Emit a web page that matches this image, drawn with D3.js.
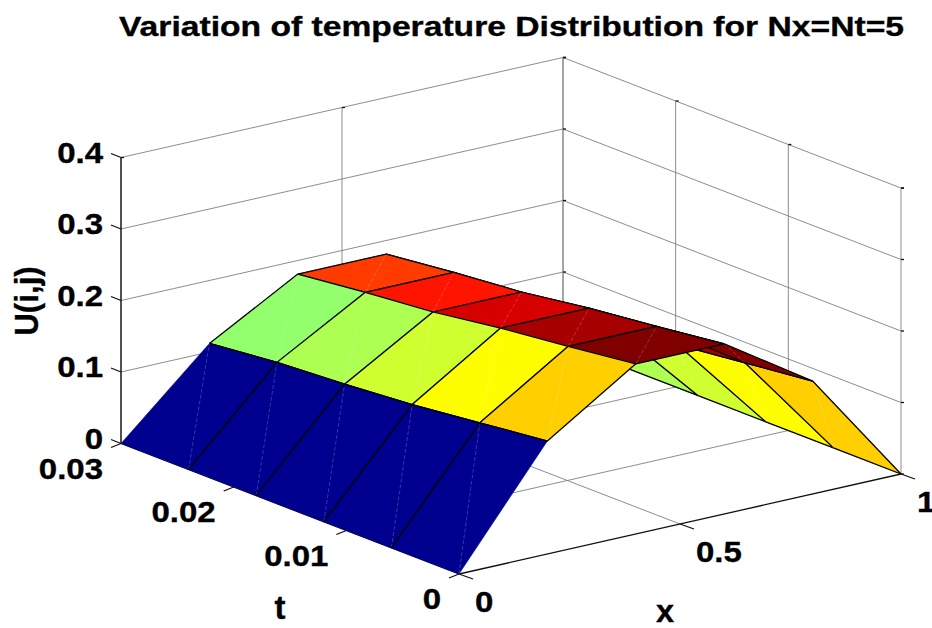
<!DOCTYPE html>
<meta charset="utf-8">
<style>
html, body { margin: 0; background: #fff; }
text { font-family: "Liberation Sans", Arial, sans-serif; font-weight: bold; fill: #000; stroke: #000; stroke-width: 0.35px; }
.grid line { stroke: #808080; stroke-width: 0.9px; }
.axis line { stroke: #111; stroke-width: 1.3px; }
</style>
<body>
<svg width="932" height="628"></svg>
</body>
<script src="https://d3js.org/d3.v7.min.js"></script>
<script>

// values
var xValues = [0, 0.2, 0.4, 0.6, 0.8, 1];
var tValues = [0, 0.006, 0.012, 0.018, 0.024, 0.03];
var uAtX0 = [0, 0, 0, 0, 0, 0];
var uAtX1 = [0.158, 0.147, 0.136, 0.128, 0.122, 0.112];
var uAtX2 = [0.238, 0.226, 0.215, 0.201, 0.192, 0.181];
var uAtX3 = [0.238, 0.226, 0.215, 0.201, 0.192, 0.181];
var uAtX4 = [0.158, 0.147, 0.136, 0.128, 0.122, 0.112];
var uAtX5 = [0, 0, 0, 0, 0, 0];
var uRows = [uAtX0, uAtX1, uAtX2, uAtX3, uAtX4, uAtX5];

var xTicks = [0, 0.5, 1];
var tTicks = [0, 0.01, 0.02, 0.03];
var uTicks = [0, 0.1, 0.2, 0.3, 0.4];
var xLabels = ["0", "0.5", "1"];
var tLabels = ["0", "0.01", "0.02", "0.03"];
var uLabels = ["0", "0.1", "0.2", "0.3", "0.4"];
var jetStops = [0, 0.125, 0.375, 0.625, 0.875, 1];
var jetColors = ["#00008f", "#0000ff", "#00ffff", "#ffff00", "#ff0000", "#800000"];
var colorTop = 0.235;

var svg = d3.select("svg");

// oblique projection, one scale per screen direction of each data axis
var xToX = d3.scaleLinear().domain([0, 1]).range([0, 442]);
var xToY = d3.scaleLinear().domain([0, 1]).range([0, -100]);
var tToX = d3.scaleLinear().domain([0, 0.03]).range([0, -338]);
var tToY = d3.scaleLinear().domain([0, 0.03]).range([0, -130.5]);
var uToY = d3.scaleLinear().domain([0, 0.4]).range([0, -286]);

function project(x, t, u) {
  return [459 + xToX(x) + tToX(t), 574 + xToY(x) + tToY(t) + uToY(u)];
}

var color = d3.scaleLinear().clamp(true)
  .domain(jetStops.map(function(d) { return d * colorTop; })).range(jetColors);

function seg(g, a, b) {
  g.append("line").attr("x1", a[0]).attr("y1", a[1]).attr("x2", b[0]).attr("y2", b[1]);
}
function offset(p, dx, dy) { return [p[0] + dx, p[1] + dy]; }

// walls and floor
var grid = svg.append("g").attr("class", "grid");
var tMax = 0.03;
uTicks.forEach(function(u) {
  seg(grid, project(0, tMax, u), project(1, tMax, u));
  seg(grid, project(1, tMax, u), project(1, 0, u));
});
xTicks.forEach(function(x) {
  seg(grid, project(x, tMax, 0), project(x, tMax, 0.4));
  if (x > 0 && x < 1) seg(grid, project(x, tMax, 0), project(x, 0, 0));
});
tTicks.forEach(function(t) {
  seg(grid, project(1, t, 0), project(1, t, 0.4));
  if (t > 0 && t < tMax) seg(grid, project(0, t, 0), project(1, t, 0));
});

// axes and tick marks
var axis = svg.append("g").attr("class", "axis");
seg(axis, project(0, tMax, 0), project(0, tMax, 0.4));
seg(axis, project(0, tMax, 0), project(0, 0, 0));
seg(axis, project(0, 0, 0), project(1, 0, 0));
uTicks.forEach(function(u) {
  seg(axis, project(0, tMax, u), offset(project(0, tMax, u), -10, -4));
  seg(axis, project(1, tMax, u), offset(project(1, tMax, u), 3, 0));
  seg(axis, project(1, 0, u), offset(project(1, 0, u), 3, 0));
});
tTicks.forEach(function(t) {
  var p = project(0, t, 0);
  seg(axis, p, offset(p, -10, 4));
  seg(axis, project(1, t, 0.4), offset(project(1, t, 0.4), 3, 0));
});
xTicks.forEach(function(x) {
  var p = project(x, 0, 0);
  seg(axis, p, offset(p, 14, 5));
  seg(axis, project(x, tMax, 0.4), offset(project(x, tMax, 0.4), 3, 0));
});

// surface, far cells first so the near ones cover them
var cells = [];
xValues.slice(0, -1).forEach(function(x, i) {
  tValues.slice(0, -1).forEach(function(t, j) {
    cells.push({i: i, j: j});
  });
});
cells.sort(function(a, b) { return (b.i + b.j) - (a.i + a.j); });

var surface = svg.append("g");
function corner(i, j) { return project(xValues[i], tValues[j], uRows[i][j]); }

cells.forEach(function(c) {
  var i = c.i, j = c.j;
  var a = corner(i, j), b = corner(i, j + 1), d = corner(i + 1, j + 1), e = corner(i + 1, j);
  var fill = color(uRows[i][j]);
  surface.append("path")
    .attr("d", d3.line()([a, b, d, e]) + "Z")
    .attr("fill", fill).attr("stroke", fill).attr("stroke-width", 0.5);
  // seam between the two triangles of the cell
  surface.append("path")
    .attr("d", d3.line()([a, d]))
    .attr("fill", "none").attr("stroke", "#fff").attr("stroke-opacity", 0.35)
    .attr("stroke-width", 0.6).attr("stroke-dasharray", "4 2");
  // black mesh, the outline of the first blue strip does not show in the picture
  var edges = [];
  if (i > 0) edges.push([a, b]);
  edges.push([e, d]);
  if (i > 0 || j > 0) edges.push([a, e]);
  if (i > 0 || j < tValues.length - 2) edges.push([b, d]);
  edges.forEach(function(p) {
    surface.append("path").attr("d", d3.line()(p))
      .attr("fill", "none").attr("stroke", "#000").attr("stroke-width", 1.25);
  });
});

// the original text is stretched, so each label gets its own horizontal scale
function label(x, y, size, stretch, anchor, str, angle) {
  svg.append("text")
    .attr("transform", "translate(" + x + "," + y + ") rotate(" + (angle || 0) + ") scale(" + stretch + ",1)")
    .attr("text-anchor", anchor)
    .style("font-size", size + "px")
    .text(str);
}

label(119, 36, 27, 1.246, "start", "Variation of temperature Distribution for Nx=Nt=5");

uTicks.forEach(function(u, k) {
  label(103, project(0, tMax, u)[1] + 5, 30, 1.1, "end", uLabels[k]);
});
tTicks.forEach(function(t, k) {
  var p = project(0, t, 0);
  label(p[0] - 18, p[1] + 35, 30, 1.1, "end", tLabels[k]);
});
xTicks.forEach(function(x, k) {
  var p = project(x, 0, 0);
  label(p[0] + 16, p[1] + 38, 30, 1.1, "start", xLabels[k]);
});
label(665, 622, 31, 1.05, "middle", "x");
label(280, 619, 33, 1, "middle", "t");
label(38, 301, 34, 0.92, "middle", "U(i,j)", -90);

</script>
